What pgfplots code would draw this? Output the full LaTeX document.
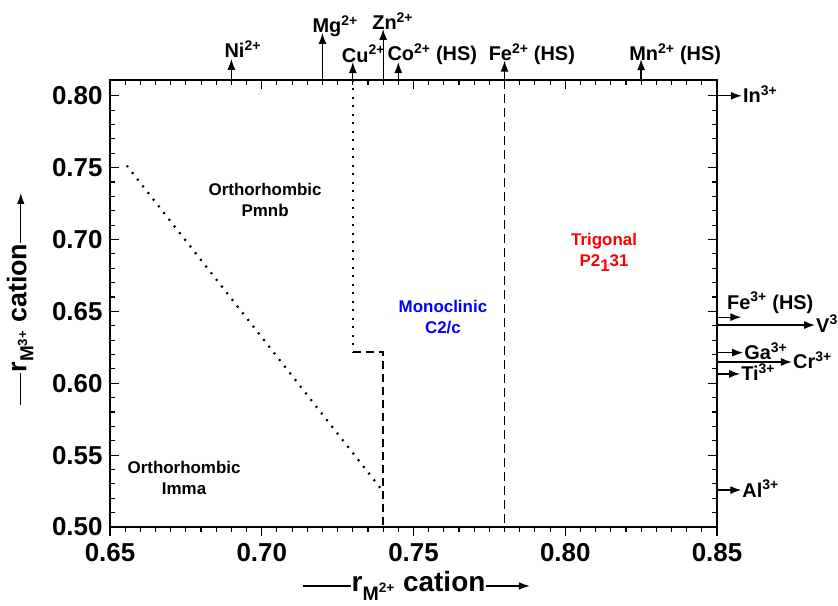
\documentclass[border=0pt]{standalone}
\usepackage{fontspec}
\setmainfont{Liberation Sans}
\usepackage{pgfplots}
\pgfplotsset{compat=1.18}
\usetikzlibrary{arrows.meta}
\newcommand{\sz}[1]{\fontsize{#1}{#1}\selectfont}
\begin{document}
\begin{tikzpicture}
\pgfplotsset{
  common/.style={
    scale only axis, width=607bp, height=447bp,
    xmin=0.65, xmax=0.85, ymin=0.50, ymax=0.811,
    at={(0,0)}, anchor=south west,
    axis line style={line width=1.2bp},
    every tick/.style={black, line width=1.1bp},
    major tick length=9bp, minor tick length=5bp,
    xtick={0.65,0.70,0.75,0.80,0.85},
    ytick={0.50,0.55,0.60,0.65,0.70,0.75,0.80},
    minor x tick num=9, minor y tick num=4,
  },
  arr/.style={black, line width=1.3bp, -{Latex[length=11bp,width=8bp]}},
}
\begin{axis}[common,
  clip=false,
  xtick pos=left, xtick align=outside,
  ytick pos=both, ytick align=inside, yticklabel pos=left,
  ticklabel style={font=\bfseries\sz{26}},
  xticklabel style={yshift=-4bp},
  yticklabel style={xshift=-4bp},
  /pgf/number format/.cd, fixed, fixed zerofill, precision=2, assume math mode=true,
  /pgfplots/.cd,
  xlabel={\tikz[baseline=-0.4ex]\draw[line width=1.3bp] (0,0)--(48bp,0);r\textsubscript{M\textsuperscript{2+}} cation\tikz[baseline=-0.4ex]\draw[line width=1.3bp,-{Latex[length=11bp,width=7.5bp]}] (0,0)--(44bp,0);},
  xlabel style={font=\bfseries\sz{28}, at={(axis description cs:0.505,-0.132)}, anchor=center},
  ylabel={\tikz[baseline=-0.4ex]\draw[line width=1.3bp] (0,0)--(32bp,0);r\textsubscript{M\textsuperscript{3+}} cation\tikz[baseline=-0.4ex]\draw[line width=1.3bp,-{Latex[length=11bp,width=7.5bp]}] (0,0)--(50bp,0);},
  ylabel style={font=\bfseries\sz{27}, at={(axis description cs:-0.148,0.51)}, anchor=center, rotate=0},
]
% phase boundaries
\addplot[black, line width=2.2bp, dash pattern=on 2bp off 6.5bp] coordinates {(0.6555,0.7515) (0.7395,0.526)};
\addplot[black, line width=2.2bp, dash pattern=on 2bp off 6.5bp] coordinates {(0.73,0.811) (0.73,0.6215)};
\addplot[black, line width=1.8bp, dash pattern=on 8bp off 5bp] coordinates {(0.73,0.6215) (0.74,0.6215) (0.74,0.50)};
\addplot[black, line width=1.8bp, dash pattern=on 9bp off 5bp] coordinates {(0.78,0.811) (0.78,0.50)};

% M2+ arrows (top)
\addplot[arr] coordinates {(0.69,0.811) (0.69,0.8257)};
\addplot[arr] coordinates {(0.72,0.811) (0.72,0.8437)};
\addplot[arr] coordinates {(0.73,0.811) (0.73,0.8235)};
\addplot[arr] coordinates {(0.74,0.811) (0.74,0.8465)};
\addplot[arr] coordinates {(0.745,0.811) (0.745,0.8235)};
\addplot[arr] coordinates {(0.78,0.811) (0.78,0.8245)};
\addplot[arr] coordinates {(0.825,0.811) (0.825,0.8255)};

\begin{scope}[every node/.style={font=\bfseries\sz{20}, anchor=base west, inner sep=0pt}]
\node[xshift=-7bp]  at (axis cs:0.69,0.8264)  {Ni\textsuperscript{2+}};
\node[xshift=-10bp] at (axis cs:0.72,0.8437)  {Mg\textsuperscript{2+}};
\node[xshift=-11bp] at (axis cs:0.73,0.8232)  {Cu\textsuperscript{2+}};
\node[xshift=-11bp] at (axis cs:0.74,0.8458)  {Zn\textsuperscript{2+}};
\node[xshift=-11bp] at (axis cs:0.745,0.8243) {Co\textsuperscript{2+} (HS)};
\node[xshift=-16bp] at (axis cs:0.78,0.8243)  {Fe\textsuperscript{2+} (HS)};
\node[xshift=-12bp] at (axis cs:0.825,0.8243) {Mn\textsuperscript{2+} (HS)};
\end{scope}

% M3+ arrows (right)
\addplot[arr] coordinates {(0.85,0.80) (0.8582,0.80)};
\addplot[arr] coordinates {(0.85,0.646) (0.858,0.646)};
\addplot[arr] coordinates {(0.85,0.6405) (0.8823,0.6405)};
\addplot[arr] coordinates {(0.85,0.6213) (0.8586,0.6213)};
\addplot[arr] coordinates {(0.85,0.6148) (0.8747,0.6148)};
\addplot[arr] coordinates {(0.85,0.6065) (0.8576,0.6065)};
\addplot[arr] coordinates {(0.85,0.5257) (0.858,0.5257)};

\begin{scope}[every node/.style={font=\bfseries\sz{20}, anchor=base west, inner sep=0pt, xshift=1bp, yshift=-7bp}]
\node at (axis cs:0.8582,0.80)   {In\textsuperscript{3+}};
\node at (axis cs:0.8823,0.6405) {V\textsuperscript{3+}};
\node at (axis cs:0.8586,0.6213) {Ga\textsuperscript{3+}};
\node at (axis cs:0.8747,0.6148) {Cr\textsuperscript{3+}};
\node at (axis cs:0.8576,0.6065) {Ti\textsuperscript{3+}};
\node at (axis cs:0.858,0.5257)  {Al\textsuperscript{3+}};
\end{scope}
\node[font=\bfseries\sz{20}, anchor=base west, inner sep=0pt] at (axis cs:0.8533,0.6514) {Fe\textsuperscript{3+} (HS)};

% phase region labels
\begin{scope}[every node/.style={font=\bfseries\fontsize{17}{21}\selectfont, align=center, anchor=center}]
\node at (axis cs:0.7011,0.7278) {Orthorhombic\\Pmnb};
\node at (axis cs:0.6744,0.5341) {Orthorhombic\\Imma};
\node[text=blue] at (axis cs:0.7597,0.6459) {Monoclinic\\C2/c};
\node[text=red] at (axis cs:0.8128,0.6910) {Trigonal\\P2\raisebox{-0.3em}{1}31};
\end{scope}
\end{axis}
\begin{axis}[common,
  xtick pos=right, xtick align=inside, xticklabels={},
  ytick=\empty, axis line style={draw=none},
]
\end{axis}
\pgfresetboundingbox
\path[use as bounding box] (-110bp,-79bp) rectangle (728bp,527bp);
\end{tikzpicture}
\end{document}
